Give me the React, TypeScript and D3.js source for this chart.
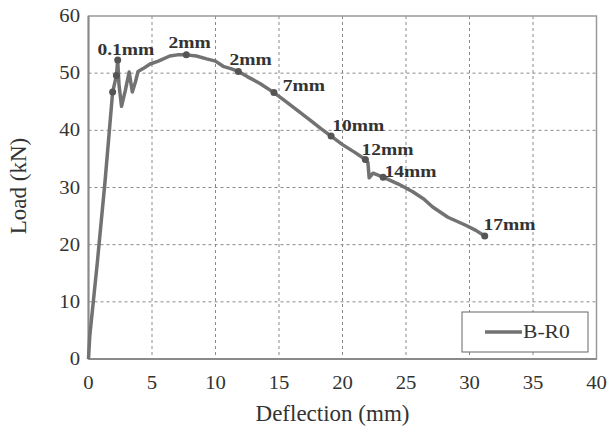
import React, { useEffect, useRef } from "react";
import * as d3 from "d3";

// load-deflection curve of specimen B-R0
const deflection = [
  0, 0.1, 0.7, 1.3, 1.9, 2.2, 2.3, 2.4, 2.6, 2.9, 3.2, 3.45, 3.7, 3.9, 4.3,
  4.85, 5.5, 6.4, 7.0, 7.7, 8.5, 9.3, 10.0, 10.6, 11.2, 11.8, 12.5, 13.5, 14.6,
  15.5, 16.5, 17.5, 18.3, 19.1, 20.0, 21.0, 21.8, 22.0, 22.1, 22.4, 23.2, 24.4,
  25.5, 26.4, 27.1, 28.3, 29.7, 30.5, 31.2,
];
const load = [
  0, 4, 17, 31, 46.7, 49.6, 52.3, 48, 44.2, 47, 50.2, 46.7, 48.5, 50.3, 50.8,
  51.6, 52.1, 53.0, 53.2, 53.2, 53.0, 52.5, 52.1, 51.2, 50.8, 50.3, 49.4, 48.2,
  46.6, 45.1, 43.4, 41.7, 40.3, 39.0, 37.5, 36.1, 34.9, 34.4, 31.7, 32.5, 31.8,
  30.6, 29.3, 28.0, 26.6, 24.8, 23.4, 22.5, 21.5,
];

// marked points and their notes
const markX = [1.9, 2.2, 2.3, 7.7, 11.8, 14.6, 19.1, 21.8, 23.2, 31.2];
const markY = [46.7, 49.6, 52.3, 53.2, 50.3, 46.6, 39.0, 34.9, 31.8, 21.5];
const noteText = ["0.1mm", "2mm", "2mm", "7mm", "10mm", "12mm", "14mm", "17mm"];
const noteX = [0.7, 6.3, 11.1, 15.3, 19.2, 21.5, 23.3, 31.1];
const noteY = [53.1, 54.4, 51.5, 46.9, 39.9, 35.6, 31.8, 22.6];

const xTicks = [0, 5, 10, 15, 20, 25, 30, 35, 40];
const yTicks = [0, 10, 20, 30, 40, 50, 60];
const seriesName = "B-R0";

const W = 609;
const H = 428;
const FONT = "'Liberation Serif', 'Times New Roman', serif";

export default function App() {
  const svgRef = useRef(null);

  useEffect(() => {
    const svg = d3.select(svgRef.current);
    const left = 88.5;
    const right = 596.5;
    const top = 16;
    const bottom = 359;

    const x = d3.scaleLinear().domain([0, 40]).range([left, right]);
    const y = d3.scaleLinear().domain([0, 60]).range([bottom, top]);

    svg.append("rect").attr("width", W).attr("height", H).attr("fill", "#fff");

    // grid
    svg
      .append("g")
      .selectAll("line")
      .data(xTicks.slice(1, -1))
      .enter()
      .append("line")
      .attr("x1", (d) => x(d))
      .attr("x2", (d) => x(d))
      .attr("y1", top)
      .attr("y2", bottom)
      .attr("stroke", "#8a8a8a")
      .attr("stroke-width", 1)
      .attr("stroke-dasharray", "3,3");
    svg
      .append("g")
      .selectAll("line")
      .data(yTicks.slice(1, -1))
      .enter()
      .append("line")
      .attr("x1", left)
      .attr("x2", right)
      .attr("y1", (d) => y(d))
      .attr("y2", (d) => y(d))
      .attr("stroke", "#8a8a8a")
      .attr("stroke-width", 1)
      .attr("stroke-dasharray", "3,3");

    // frame
    svg
      .append("rect")
      .attr("x", left)
      .attr("y", top)
      .attr("width", right - left)
      .attr("height", bottom - top)
      .attr("fill", "none")
      .attr("stroke", "#9a9a9a")
      .attr("stroke-width", 1.5);
    svg
      .append("line")
      .attr("x1", left)
      .attr("x2", right)
      .attr("y1", bottom)
      .attr("y2", bottom)
      .attr("stroke", "#8a8a8a")
      .attr("stroke-width", 2);
    svg
      .append("line")
      .attr("x1", left)
      .attr("x2", left)
      .attr("y1", top)
      .attr("y2", bottom)
      .attr("stroke", "#8a8a8a")
      .attr("stroke-width", 2);

    // stretched text helper (the source fonts look wider than usual)
    const stretched = (
      g: any,
      tx: number,
      ty: number,
      txt: string,
      size: number,
      anchor: string,
      weight = "normal",
      sx = 1.15
    ) =>
      g
        .append("text")
        .attr("transform", `translate(${tx},${ty}) scale(${sx},1)`)
        .attr("text-anchor", anchor)
        .attr("font-family", FONT)
        .attr("font-size", size)
        .attr("font-weight", weight)
        .attr("fill", "#333")
        .text(txt);

    const ticks = svg.append("g");
    xTicks.forEach((t) => stretched(ticks, x(t), 389, String(t), 18, "middle"));
    yTicks.forEach((t) => stretched(ticks, 80, y(t) + 6, String(t), 18, "end"));

    svg
      .append("text")
      .attr("x", (left + right) / 2 - 10)
      .attr("y", 421)
      .attr("text-anchor", "middle")
      .attr("font-family", FONT)
      .attr("font-size", 23)
      .attr("fill", "#333")
      .text("Deflection (mm)");
    svg
      .append("text")
      .attr("transform", `translate(26,186) rotate(-90)`)
      .attr("text-anchor", "middle")
      .attr("font-family", FONT)
      .attr("font-size", 23)
      .attr("fill", "#333")
      .text("Load (kN)");

    // curve
    const pts = deflection.map((d, i) => [d, load[i]] as [number, number]);
    const line = d3
      .line<[number, number]>()
      .x((d) => x(d[0]))
      .y((d) => y(d[1]));
    svg
      .append("path")
      .datum(pts)
      .attr("d", line)
      .attr("fill", "none")
      .attr("stroke", "#727272")
      .attr("stroke-width", 3.5)
      .attr("stroke-linejoin", "round");

    svg
      .append("g")
      .selectAll("circle")
      .data(markX)
      .enter()
      .append("circle")
      .attr("cx", (d) => x(d))
      .attr("cy", (d, i) => y(markY[i]))
      .attr("r", 3.5)
      .attr("fill", "#555");

    const notes = svg.append("g");
    noteText.forEach((t, i) =>
      stretched(notes, x(noteX[i]), y(noteY[i]), t, 16, "start", "bold", 1.22)
    );

    // legend
    const lg = svg.append("g");
    lg.append("rect")
      .attr("x", 462)
      .attr("y", 312)
      .attr("width", 126)
      .attr("height", 40)
      .attr("fill", "#fff")
      .attr("stroke", "#666")
      .attr("stroke-width", 1);
    lg.append("line")
      .attr("x1", 485)
      .attr("x2", 522)
      .attr("y1", 332)
      .attr("y2", 332)
      .attr("stroke", "#727272")
      .attr("stroke-width", 3.5);
    stretched(lg, 523, 338, seriesName, 18, "start", "normal", 1.2);

    return () => {
      svg.selectAll("*").remove();
    };
  }, []);

  return (
    <svg
      ref={svgRef}
      width={W}
      height={H}
      style={{ position: "absolute", left: 0, top: 0 }}
    />
  );
}
